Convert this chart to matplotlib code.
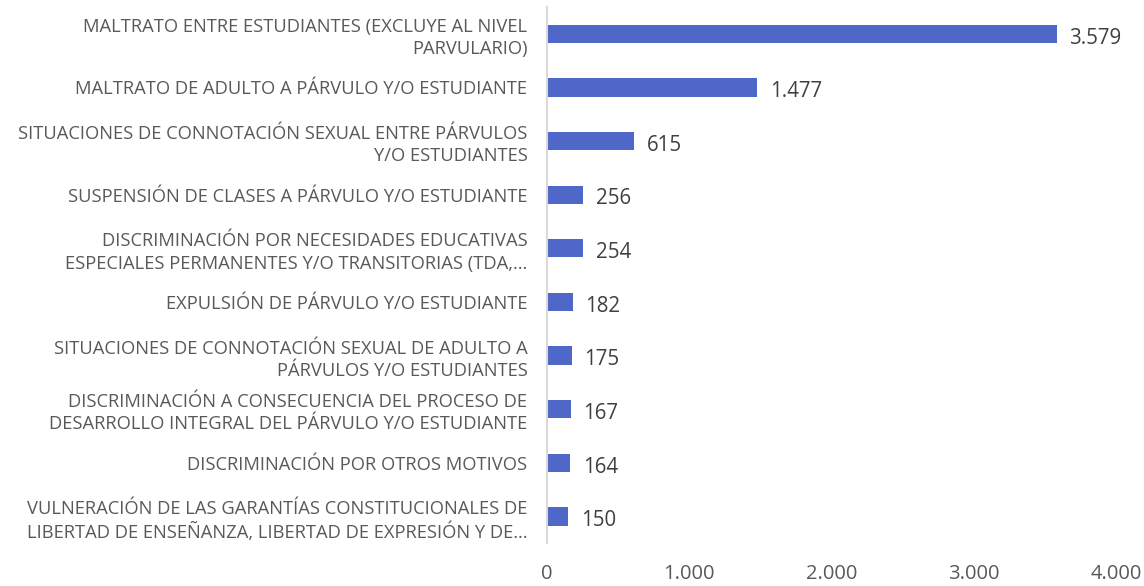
import matplotlib
matplotlib.use("Agg")
import matplotlib.pyplot as plt
from matplotlib.ticker import FuncFormatter

categories = [
    "MALTRATO ENTRE ESTUDIANTES (EXCLUYE AL NIVEL\nPARVULARIO)",
    "MALTRATO DE ADULTO A PÁRVULO Y/O ESTUDIANTE",
    "SITUACIONES DE CONNOTACIÓN SEXUAL ENTRE PÁRVULOS\nY/O ESTUDIANTES",
    "SUSPENSIÓN DE CLASES A PÁRVULO Y/O ESTUDIANTE",
    "DISCRIMINACIÓN POR NECESIDADES EDUCATIVAS\nESPECIALES PERMANENTES Y/O TRANSITORIAS (TDA,…",
    "EXPULSIÓN DE PÁRVULO Y/O ESTUDIANTE",
    "SITUACIONES DE CONNOTACIÓN SEXUAL DE ADULTO A\nPÁRVULOS Y/O ESTUDIANTES",
    "DISCRIMINACIÓN A CONSECUENCIA DEL PROCESO DE\nDESARROLLO INTEGRAL DEL PÁRVULO Y/O ESTUDIANTE",
    "DISCRIMINACIÓN POR OTROS MOTIVOS",
    "VULNERACIÓN DE LAS GARANTÍAS CONSTITUCIONALES DE\nLIBERTAD DE ENSEÑANZA, LIBERTAD DE EXPRESIÓN Y DE…",
]
values = [3579, 1477, 615, 256, 254, 182, 175, 167, 164, 150]
xticks = [0, 1000, 2000, 3000, 4000]

def fmt(v):
    return f"{int(v):,}".replace(",", ".")

plt.rcParams['font.family'] = ['Open Sans', 'DejaVu Sans']

fig = plt.figure(figsize=(11.44, 5.86), dpi=100)
ax = fig.add_axes([0.478, 0.073, 0.498, 0.915])

ypos = list(range(len(categories)))
ax.barh(ypos, values, height=0.34, color="#4F67C8")
ax.set_ylim(len(categories) - 0.5, -0.5)
ax.set_xlim(0, 4000)
ax.set_yticks(ypos)
ax.set_yticklabels(categories, fontsize=13.2, color="#595959", linespacing=1.3)
ax.set_xticks(xticks)
ax.xaxis.set_major_formatter(FuncFormatter(lambda v, p: fmt(v)))
ax.tick_params(axis='x', labelsize=14.5, colors="#595959", length=0, pad=15)
ax.tick_params(axis='y', length=0, pad=14)

for s in ["top", "right", "bottom"]:
    ax.spines[s].set_visible(False)
ax.spines["left"].set_color("#D9D9D9")
ax.spines["left"].set_linewidth(1.5)

for y, v in zip(ypos, values):
    ax.text(v + 90, y + 0.08, fmt(v), va="center", ha="left", fontsize=14.8, color="#404040")

fig.savefig("out.png", dpi=100)
